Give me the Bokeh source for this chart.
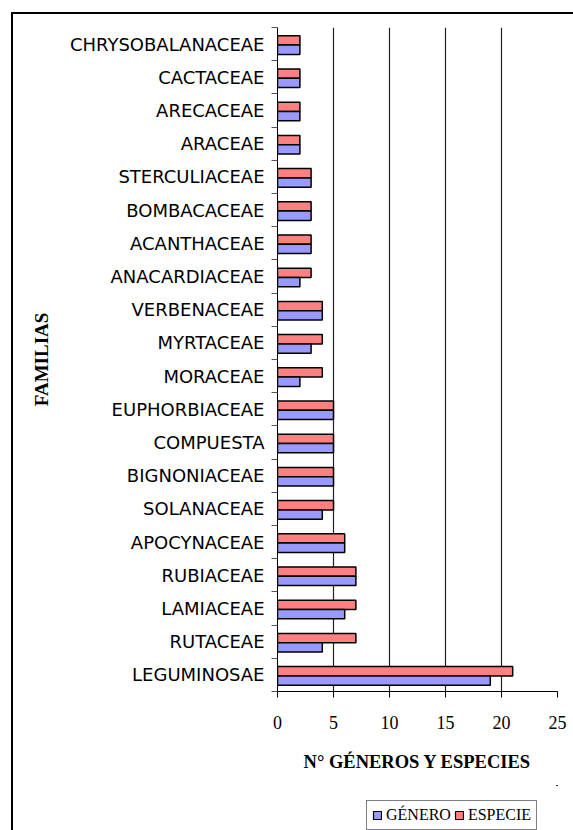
from bokeh.plotting import figure
from bokeh.models import Range1d, FixedTicker, Legend, LegendItem, ColumnDataSource
from bokeh.layouts import column
from bokeh.embed import file_html
from bokeh.resources import INLINE

familias = ["LEGUMINOSAE", "RUTACEAE", "LAMIACEAE", "RUBIACEAE", "APOCYNACEAE",
            "SOLANACEAE", "BIGNONIACEAE", "COMPUESTA", "EUPHORBIACEAE", "MORACEAE",
            "MYRTACEAE", "VERBENACEAE", "ANACARDIACEAE", "ACANTHACEAE", "BOMBACACEAE",
            "STERCULIACEAE", "ARACEAE", "ARECACEAE", "CACTACEAE", "CHRYSOBALANACEAE"]
genero = [19, 4, 6, 7, 6, 4, 5, 5, 5, 2, 3, 4, 2, 3, 3, 3, 2, 2, 2, 2]
especie = [21, 7, 7, 7, 6, 5, 5, 5, 5, 4, 4, 4, 3, 3, 3, 3, 2, 2, 2, 2]
x_ticks = [0, 5, 10, 15, 20, 25]
series_labels = ["GÉNERO", "ESPECIE"]
series_cols = {"GÉNERO": "genero", "ESPECIE": "especie"}
colors = {"GÉNERO": "#9999FF", "ESPECIE": "#FF8080"}

n = len(familias)
centers = [i + 0.5 for i in range(n)]
src = ColumnDataSource(dict(
    fam=familias,
    genero=genero,
    especie=especie,
    y_esp=[c + 0.11 for c in centers],
    y_gen=[c - 0.17 for c in centers],
))

p = figure(width=560, height=771, output_backend="svg", toolbar_location=None,
           x_range=Range1d(0, 25), y_range=Range1d(0, n),
           min_border_left=264, min_border_right=16, min_border_top=13, min_border_bottom=94)
p.outline_line_color = None
p.background_fill_color = "white"
p.border_fill_color = "white"

p.hbar(y="y_esp", left=0, right="especie", height=0.28, source=src,
       fill_color=colors["ESPECIE"], line_color="black", line_width=1.5)
p.hbar(y="y_gen", left=0, right="genero", height=0.28, source=src,
       fill_color=colors["GÉNERO"], line_color="black", line_width=1.5)

# x axis
xa = p.xaxis[0]
xa.ticker = FixedTicker(ticks=x_ticks)
xa.axis_line_color = "black"
xa.major_tick_line_color = "black"
xa.major_tick_out = 6
xa.major_tick_in = 0
xa.minor_tick_line_color = None
xa.major_label_text_font = "Liberation Serif"
xa.major_label_text_font_size = "18px"
xa.major_label_text_color = "black"
xa.major_label_standoff = 18
xa.axis_label = "N° GÉNEROS Y ESPECIES"
xa.axis_label_text_font = "Liberation Serif"
xa.axis_label_text_font_style = "bold"
xa.axis_label_text_font_size = "18.5px"
xa.axis_label_text_color = "black"
xa.axis_label_standoff = 20

# y axis
ya = p.yaxis[0]
ya.ticker = FixedTicker(ticks=centers, minor_ticks=list(range(n + 1)))
ya.major_label_overrides = {c: f for c, f in zip(centers, familias)}
ya.axis_line_color = "black"
ya.major_tick_out = 0
ya.major_tick_in = 0
ya.minor_tick_out = 6
ya.minor_tick_in = 0
ya.minor_tick_line_color = "#555555"
ya.major_label_text_font = "DejaVu Sans"
ya.major_label_text_font_size = "18px"
ya.major_label_text_color = "black"
ya.major_label_standoff = 7
ya.axis_label = "FAMILIAS"
ya.axis_label_text_font = "Liberation Serif"
ya.axis_label_text_font_style = "bold"
ya.axis_label_text_font_size = "19px"
ya.axis_label_text_color = "black"
ya.axis_label_standoff = 15

p.xgrid.ticker = FixedTicker(ticks=x_ticks)
p.xgrid.grid_line_color = "#222222"
p.xgrid.grid_line_width = 1.2
p.ygrid.grid_line_color = None

# legend strip below the chart (its frame is aligned with the chart's frame);
# its renderers use the same data but lie outside its view, so only the legend shows
pl = figure(width=560, height=45, output_backend="svg", toolbar_location=None,
            x_range=Range1d(-3, -2), y_range=Range1d(-3, -2),
            x_axis_location=None, y_axis_location=None,
            min_border_left=0, min_border_right=0, min_border_top=0, min_border_bottom=0)
pl.outline_line_color = None
pl.xgrid.visible = False
pl.ygrid.visible = False
lr = {}
for s in series_labels:
    lr[s] = pl.hbar(y="y_gen", left=0, right=series_cols[s], height=0.28, source=src,
                    fill_color=colors[s], line_color="black", line_width=1.2)

legend = Legend(items=[LegendItem(label=s, renderers=[lr[s]]) for s in series_labels],
                orientation="horizontal", location=(89, 0))
legend.label_text_font = "Liberation Serif"
legend.label_text_font_size = "16px"
legend.label_text_color = "black"
legend.glyph_width = 10
legend.glyph_height = 10
legend.label_standoff = 4
legend.label_width = 10
legend.spacing = 3
legend.padding = 5
legend.margin = 0
legend.border_line_color = "black"
legend.border_line_width = 1
legend.background_fill_color = "white"
legend.background_fill_alpha = 1
pl.add_layout(legend, "center")

layout = column(p, pl, spacing=0, margin=(12, 0, 0, 11),
                styles={"border-left": "2px solid black", "border-top": "2px solid black"})

open("out.html", "w").write(file_html(layout, INLINE))
